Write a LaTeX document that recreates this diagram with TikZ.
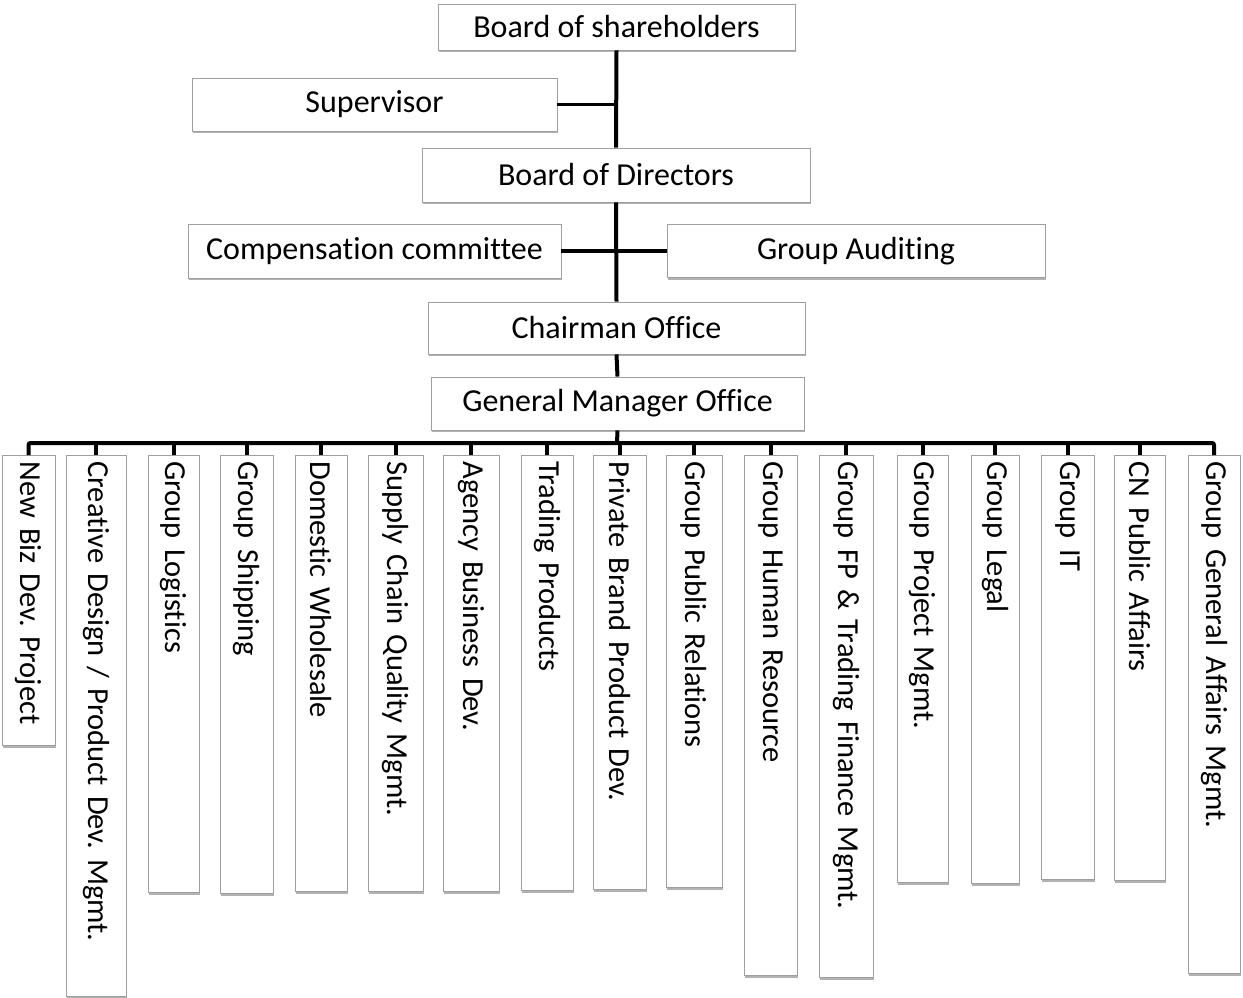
\documentclass[tikz,border=0pt]{standalone}
\usepackage{fontspec}
\setmainfont[Ligatures=NoCommon]{Carlito}
\usetikzlibrary{shadows}

\tikzset{
  box/.style={draw=gray!75, line width=0.9pt, fill=white, inner sep=0pt,
    drop shadow={shadow xshift=1.2pt, shadow yshift=-2.2pt, opacity=0.3, fill=black},
    font=\fontsize{32}{38}\selectfont},
  dept/.style 2 args={box, rotate=-90, anchor=west, inner xsep=6pt,
    minimum height=#1pt, text width=#2pt, align=left, font=\fontsize{30.5}{36}\selectfont},
  link/.style={line width=4pt, line cap=butt},
}

\begin{document}
\frenchspacing
\begin{tikzpicture}[x=1pt, y=-1pt]
  \useasboundingbox (0,0) rectangle (1243,998);

  % upper boards
  \node[box, minimum width=357pt, minimum height=46pt] (shareholders) at (616.5,27) {Board of shareholders};
  \node[box, minimum width=365pt, minimum height=53pt] (supervisor) at (374.5,104.5) {Supervisor};
  \node[box, minimum width=388pt, minimum height=54pt] (directors) at (616,175) {Board of Directors};
  \node[box, minimum width=373pt, minimum height=54pt] (compensation) at (374.5,251) {Compensation committee};
  \node[box, minimum width=378pt, minimum height=53pt] (auditing) at (856,251) {Group Auditing};
  \node[box, minimum width=377pt, minimum height=52pt] (chairman) at (616.5,328) {Chairman Office};
  \node[box, minimum width=373pt, minimum height=53pt] (gm) at (617.5,403.5) {General Manager Office};

  % departments
  \node[dept={53}{278}] (newbiz) at (28.5,455) {New Biz Dev. Project};
  \node[dept={60}{529}] (creative) at (96,455) {Creative Design / Product Dev. Mgmt.};
  \node[dept={51}{425}] (logistics) at (173.5,455) {Group Logistics};
  \node[dept={53}{426}] (shipping) at (246.5,455) {Group Shipping};
  \node[dept={52}{424}] (wholesale) at (321,455) {Domestic Wholesale};
  \node[dept={55}{424}] (quality) at (395.5,455) {Supply Chain Quality Mgmt.};
  \node[dept={56}{424}] (agency) at (471,455) {Agency Business Dev.};
  \node[dept={52}{423}] (trading) at (547,455) {Trading Products};
  \node[dept={53}{422}] (brand) at (619.5,455) {Private Brand Product Dev.};
  \node[dept={56}{420}] (relations) at (694,455) {Group Public Relations};
  \node[dept={53}{508}] (hr) at (770.5,455) {Group Human Resource};
  \node[dept={54}{510}] (finance) at (846,455) {Group FP \& Trading Finance Mgmt.};
  \node[dept={51}{415}] (project) at (922.5,455) {Group Project Mgmt.};
  \node[dept={48}{416}] (legal) at (995,455) {Group Legal};
  \node[dept={53}{412}] (it) at (1067.5,455) {Group IT};
  \node[dept={51}{413}] (cnaffairs) at (1139.5,455) {CN Public Affairs};
  \node[dept={52}{506}] (genaffairs) at (1214,455) {Group General Affairs Mgmt.};

  % trunk
  \draw[link] (shareholders.south) -- (directors.north);
  \draw[link] (directors.south) -- (chairman.north);
  \draw[link] (chairman.south) -- (gm.north);
  \draw[link, line width=3.5pt] (supervisor.east) -- (supervisor.east -| shareholders.south);
  \draw[link, line width=3.5pt] (compensation.east) -- (auditing.west);

  % bus
  \coordinate (bus) at (617,443);
  \draw[link] (gm.south) -- (bus);
  \draw[link, rounded corners=2pt] (newbiz.west) |- (bus) -| (genaffairs.west);
  \foreach \d in {creative,logistics,shipping,wholesale,quality,agency,trading,brand,relations,hr,finance,project,legal,it,cnaffairs}
    \draw[link] (\d.west) -- (\d.west |- bus);
\end{tikzpicture}
\end{document}
